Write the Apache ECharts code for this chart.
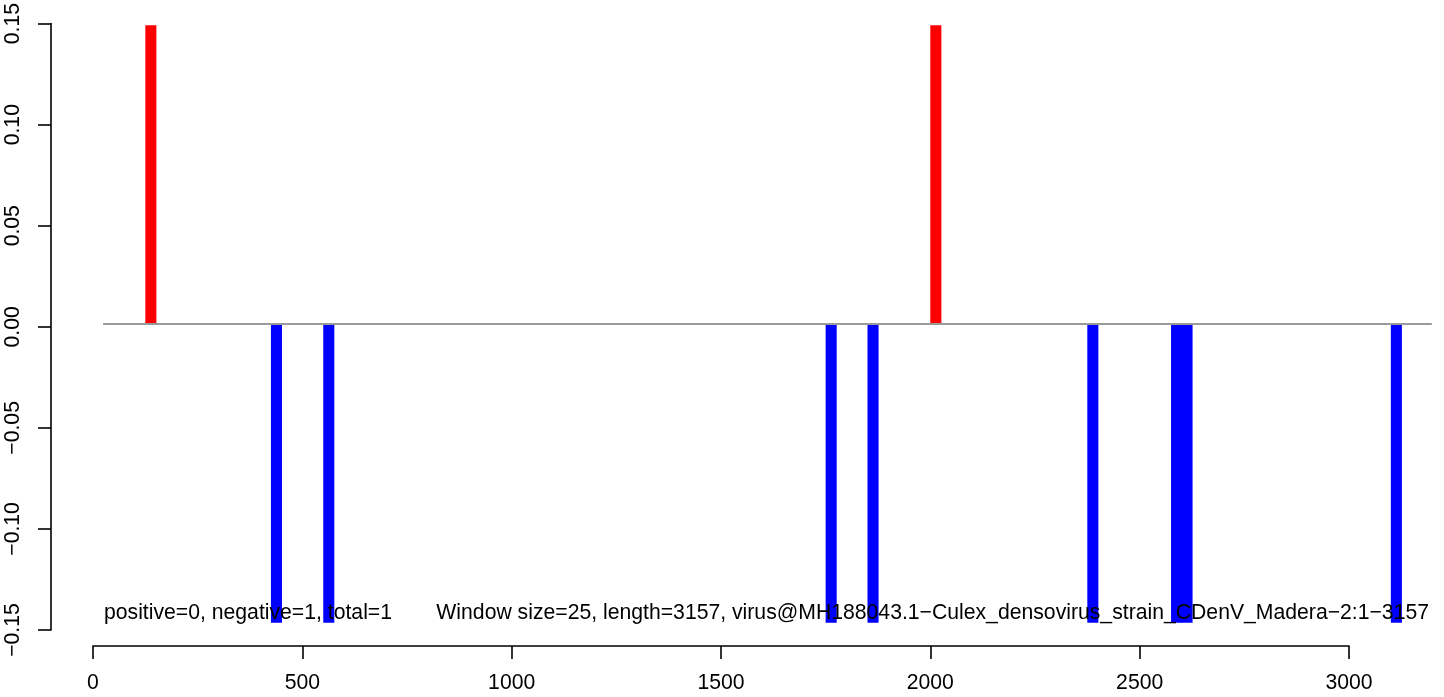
<!DOCTYPE html>
<html>
<head>
<meta charset="utf-8">
<script src="https://cdn.jsdelivr.net/npm/echarts@6/dist/echarts.min.js"></script>
<style>
  html, body { margin: 0; padding: 0; background: #fff; }
  #chart { width: 1444px; height: 697px; }
</style>
</head>
<body>
<div id="chart"></div>
<script>
// ---- data ----
const windowSize = 25;
const positiveStarts = [125, 2000];
const positiveValues = [0.1465, 0.1465];
const negativeStarts = [425, 550, 1750, 1850, 2375, 2575, 2600, 3100];
const negativeValues = [-0.1465, -0.1465, -0.1465, -0.1465, -0.1465, -0.1465, -0.1465, -0.1465];
const baselineX = [24, 3198];
const xTicks = [0, 500, 1000, 1500, 2000, 2500, 3000];
const yTicks = [-0.15, -0.10, -0.05, 0.00, 0.05, 0.10, 0.15];
const statsText = 'positive=0, negative=1, total=1';
const infoText = 'Window size=25, length=3157, virus@MH188043.1\u2212Culex_densovirus_strain_CDenV_Madera\u22122:1\u22123157';

const FONT = '"Liberation Sans", Arial, Helvetica, sans-serif';
const FS = 21.2;

function barItem(color) {
  return function (params, api) {
    const s = api.value(0), v = api.value(1);
    const p0 = api.coord([s, 0]);
    const p1 = api.coord([s + windowSize, v]);
    return {
      type: 'rect',
      shape: { x: p0[0], y: Math.min(p0[1], p1[1]), width: p1[0] - p0[0] + 0.6, height: Math.abs(p1[1] - p0[1]) },
      style: { fill: color }
    };
  };
}

const chart = echarts.init(document.getElementById('chart'), null, { renderer: 'canvas' });
const fmtY = v => {
  if (Math.abs(v) < 1e-9) v = 0;
  return v.toFixed(2).replace('-', '\u2212');
};

chart.setOption({
  animation: false,
  backgroundColor: '#ffffff',
  grid: [
    { left: 51, right: 0, top: 2, height: 644, containLabel: false },
    { left: 93, width: 1256, top: 0, height: 646, containLabel: false },
    { left: 51, width: 100, top: 18, height: 612, containLabel: false }
  ],
  xAxis: [
    { gridIndex: 0, type: 'value', min: -100.3, max: 3227.0, show: false },
    {
      gridIndex: 1, type: 'value', min: xTicks[0], max: xTicks[xTicks.length - 1], interval: 500,
      position: 'bottom',
      axisLine: { show: true, lineStyle: { color: '#000', width: 1.6 } },
      axisTick: { show: true, inside: false, length: 13, lineStyle: { color: '#000', width: 1.6 } },
      axisLabel: { show: true, margin: 27, color: '#000', fontSize: FS, fontFamily: FONT,
        customValues: xTicks, formatter: v => String(v) },
      splitLine: { show: false }
    },
    { gridIndex: 2, type: 'value', show: false }
  ],
  yAxis: [
    { gridIndex: 0, type: 'value', min: -0.15784, max: 0.15784, show: false },
    { gridIndex: 1, type: 'value', show: false },
    {
      gridIndex: 2, type: 'value', min: yTicks[0], max: yTicks[yTicks.length - 1], interval: 0.05,
      position: 'left',
      axisLine: { show: true, lineStyle: { color: '#000', width: 1.6 } },
      axisTick: { show: true, inside: false, length: 13, lineStyle: { color: '#000', width: 1.6 } },
      axisLabel: { show: true, rotate: 90, margin: 27, color: '#000', fontSize: FS, fontFamily: FONT,
        formatter: fmtY },
      splitLine: { show: false }
    }
  ],
  series: [
    {
      type: 'custom', xAxisIndex: 0, yAxisIndex: 0, z: 2,
      renderItem: barItem('#ff0000'),
      data: positiveStarts.map((s, i) => [s, positiveValues[i]])
    },
    {
      type: 'custom', xAxisIndex: 0, yAxisIndex: 0, z: 2,
      renderItem: barItem('#0000ff'),
      data: negativeStarts.map((s, i) => [s, negativeValues[i]])
    },
    {
      type: 'line', xAxisIndex: 0, yAxisIndex: 0, z: 3,
      symbol: 'none', silent: true,
      lineStyle: { color: '#9a9a9a', width: 2 },
      data: baselineX.map(x => [x, 0])
    }
  ],
  graphic: [
    { type: 'text', left: 104, top: 603, z: 10,
      style: { text: statsText, fill: '#000', font: FS + 'px ' + FONT } },
    { type: 'text', right: 1444 - 1429, top: 603, z: 10,
      style: { text: infoText, fill: '#000', font: FS + 'px ' + FONT } }
  ]
});
</script>
</body>
</html>
